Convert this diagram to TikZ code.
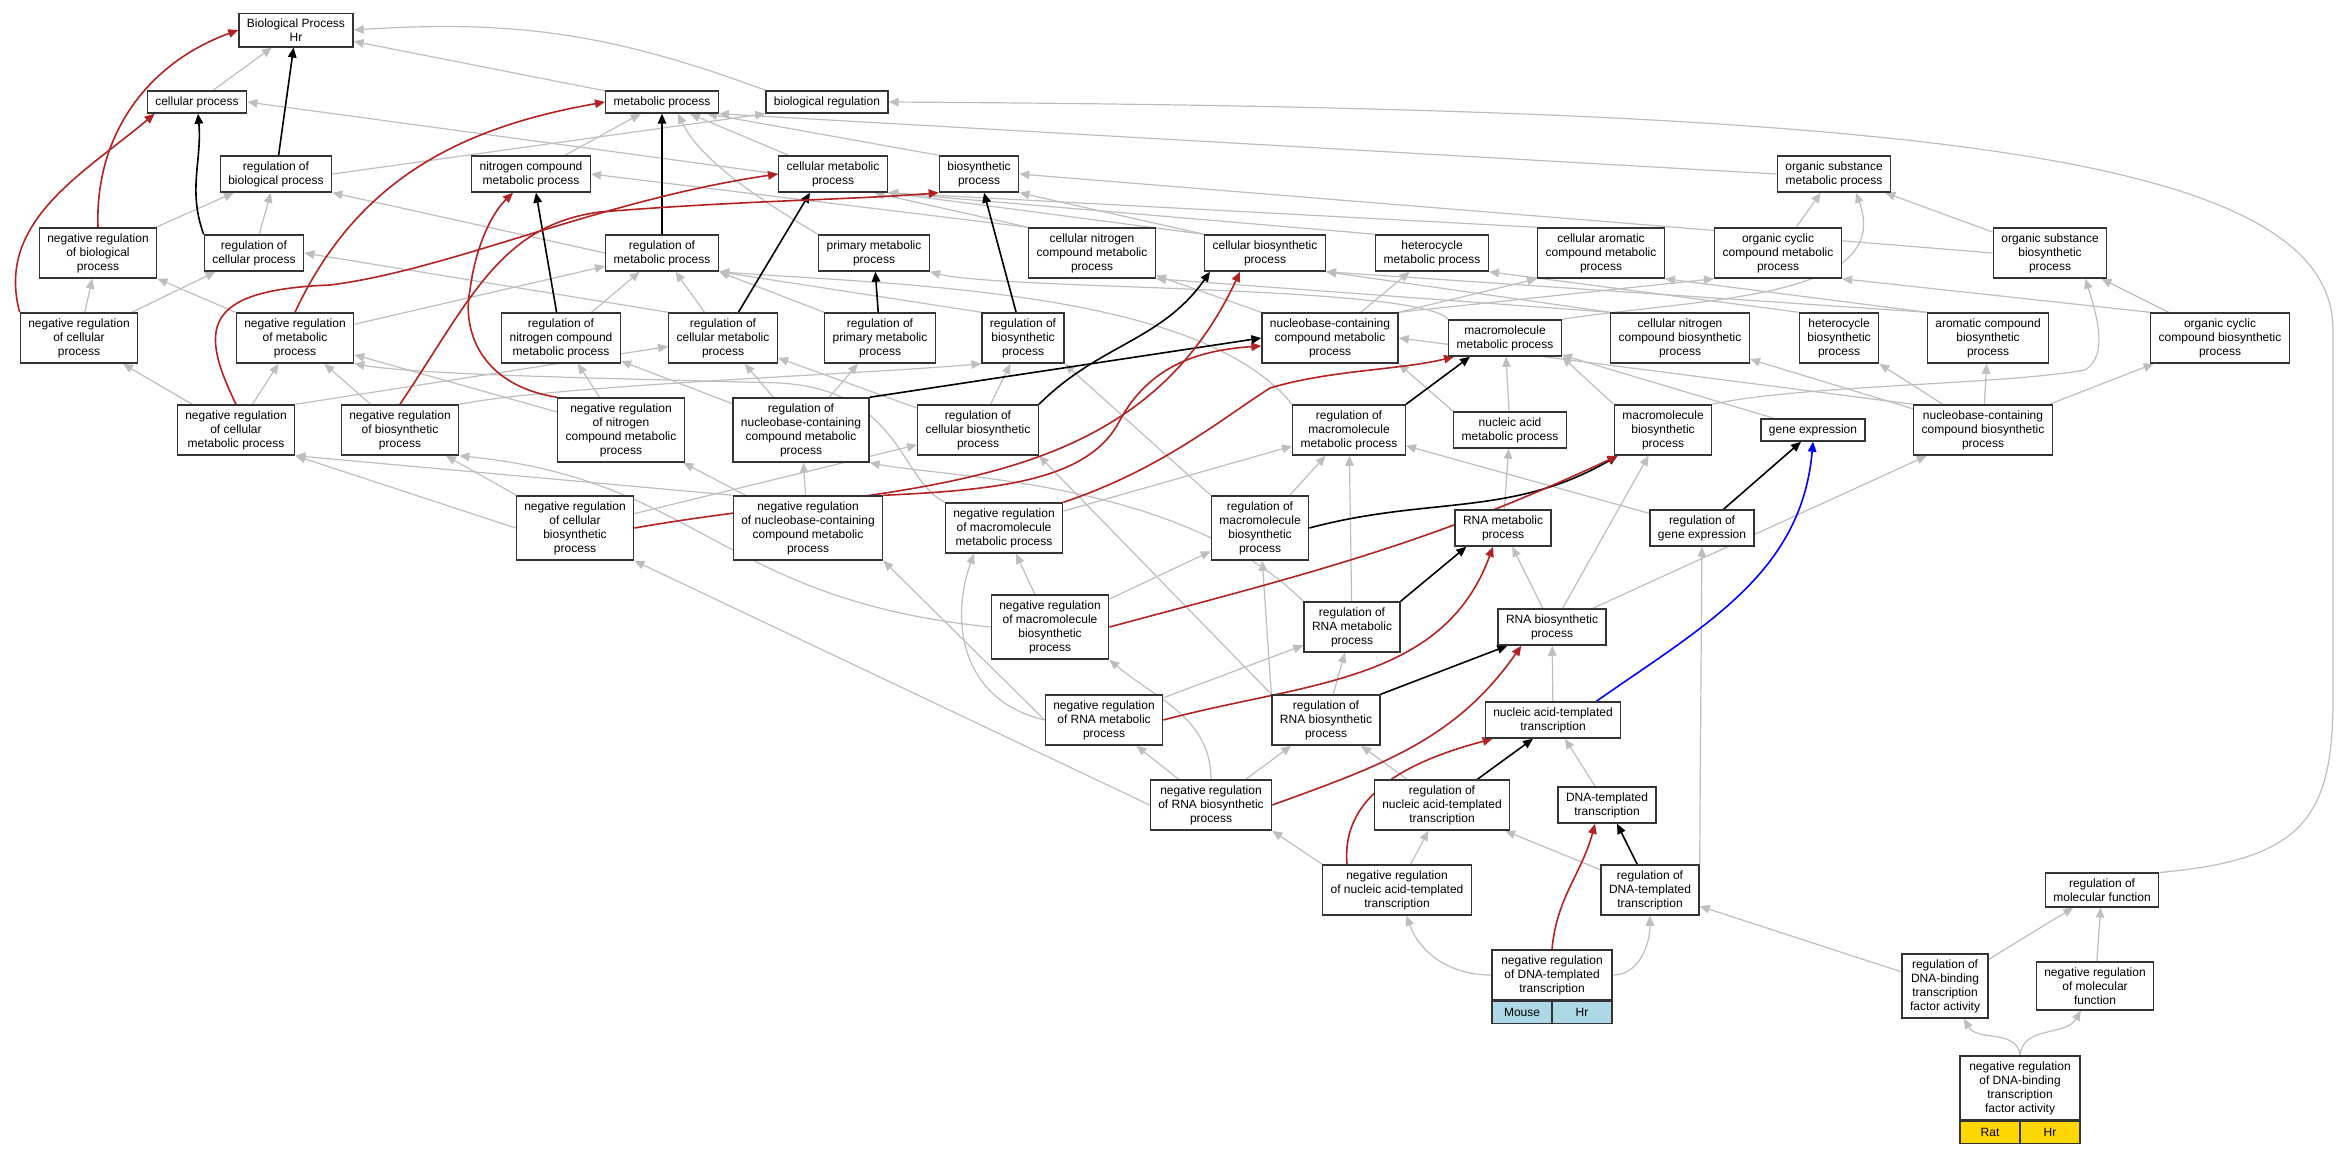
\documentclass[tikz,border=0pt]{standalone}
\usepackage{fontspec}
\setmainfont{Liberation Sans}
\usetikzlibrary{positioning}
\usetikzlibrary{arrows.meta}
\usetikzlibrary{backgrounds}
\definecolor{isagray}{HTML}{BEBEBE}
\definecolor{negred}{HTML}{B22222}
\definecolor{mouseblue}{HTML}{ADD8E6}
\definecolor{ratgold}{HTML}{FFD700}
\tikzset{
  term/.style={draw=black!80, line width=1.3pt, fill=white, align=center, font=\fontsize{12}{14}\selectfont, inner xsep=8pt, inner ysep=5.5pt},
  cell/.style={draw=black!80, line width=1.3pt, font=\fontsize{12}{14}\selectfont, minimum height=22pt, minimum width=60pt, inner sep=0pt},
  isa/.style={isagray, line width=1.2pt, -{Triangle[length=10pt,width=8.5pt]}},
  regs/.style={black, line width=1.6pt, -{Triangle[length=10pt,width=8.5pt]}},
  negreg/.style={negred, line width=1.6pt, -{Triangle[length=10pt,width=8.5pt]}},
  partof/.style={blue, line width=1.6pt, -{Triangle[length=10pt,width=8.5pt]}}
}
\begin{document}
\begin{tikzpicture}[x=1pt,y=1pt]
\useasboundingbox (0,0) rectangle (2341,-1152);
\node[term] (BP) at (296,-30) {Biological Process\\Hr};
\node[term] (cp) at (197,-102) {cellular process};
\node[term] (mp) at (662,-102) {metabolic process};
\node[term] (br) at (827,-102) {biological regulation};
\node[term] (rbp) at (276,-174) {regulation of\\biological process};
\node[term] (ncmp) at (531,-174) {nitrogen compound\\metabolic process};
\node[term] (cmp) at (833,-174) {cellular metabolic\\process};
\node[term] (bsp) at (979,-174) {biosynthetic\\process};
\node[term] (osmp) at (1834,-174) {organic substance\\metabolic process};
\node[term] (nrbp) at (98,-253) {negative regulation\\of biological\\process};
\node[term] (rcp) at (254,-253) {regulation of\\cellular process};
\node[term] (rmp) at (662,-253) {regulation of\\metabolic process};
\node[term] (pmp) at (874,-253) {primary metabolic\\process};
\node[term] (cncmp) at (1092,-253) {cellular nitrogen\\compound metabolic\\process};
\node[term] (cbp) at (1265,-253) {cellular biosynthetic\\process};
\node[term] (hmp) at (1432,-253) {heterocycle\\metabolic process};
\node[term] (camp) at (1601,-253) {cellular aromatic\\compound metabolic\\process};
\node[term] (occmp) at (1778,-253) {organic cyclic\\compound metabolic\\process};
\node[term] (osbp) at (2050,-253) {organic substance\\biosynthetic\\process};
\node[term] (nrcp) at (79,-338) {negative regulation\\of cellular\\process};
\node[term] (nrmp) at (295,-338) {negative regulation\\of metabolic\\process};
\node[term] (rncmp) at (561,-338) {regulation of\\nitrogen compound\\metabolic process};
\node[term] (rcmp) at (723,-338) {regulation of\\cellular metabolic\\process};
\node[term] (rpmp) at (880,-338) {regulation of\\primary metabolic\\process};
\node[term] (rbsp) at (1023,-338) {regulation of\\biosynthetic\\process};
\node[term] (nbcmp) at (1330,-338) {nucleobase-containing\\compound metabolic\\process};
\node[term] (mmp) at (1505,-338) {macromolecule\\metabolic process};
\node[term] (cncbp) at (1680,-338) {cellular nitrogen\\compound biosynthetic\\process};
\node[term] (hbp) at (1839,-338) {heterocycle\\biosynthetic\\process};
\node[term] (acbp) at (1988,-338) {aromatic compound\\biosynthetic\\process};
\node[term] (occbp) at (2220,-338) {organic cyclic\\compound biosynthetic\\process};
\node[term] (nrcmp) at (236,-430) {negative regulation\\of cellular\\metabolic process};
\node[term] (nrbsp) at (400,-430) {negative regulation\\of biosynthetic\\process};
\node[term] (nrncmp) at (621,-430) {negative regulation\\of nitrogen\\compound metabolic\\process};
\node[term] (rnbcmp) at (801,-430) {regulation of\\nucleobase-containing\\compound metabolic\\process};
\node[term] (rcbp) at (978,-430) {regulation of\\cellular biosynthetic\\process};
\node[term] (rmmp) at (1349,-430) {regulation of\\macromolecule\\metabolic process};
\node[term] (namp) at (1510,-430) {nucleic acid\\metabolic process};
\node[term] (mbp) at (1663,-430) {macromolecule\\biosynthetic\\process};
\node[term] (ge) at (1813,-430) {gene expression};
\node[term] (nbcbp) at (1983,-430) {nucleobase-containing\\compound biosynthetic\\process};
\node[term] (nrcbp) at (575,-528) {negative regulation\\of cellular\\biosynthetic\\process};
\node[term] (nrnbcmp) at (808,-528) {negative regulation\\of nucleobase-containing\\compound metabolic\\process};
\node[term] (nrmmp) at (1004,-528) {negative regulation\\of macromolecule\\metabolic process};
\node[term] (rmbp) at (1260,-528) {regulation of\\macromolecule\\biosynthetic\\process};
\node[term] (rnamp) at (1503,-528) {RNA metabolic\\process};
\node[term] (rge) at (1702,-528) {regulation of\\gene expression};
\node[term] (nrmbp) at (1050,-627) {negative regulation\\of macromolecule\\biosynthetic\\process};
\node[term] (rrnamp) at (1352,-627) {regulation of\\RNA metabolic\\process};
\node[term] (rnabp) at (1552,-627) {RNA biosynthetic\\process};
\node[term] (nrrnamp) at (1104,-720) {negative regulation\\of RNA metabolic\\process};
\node[term] (rrnabp) at (1326,-720) {regulation of\\RNA biosynthetic\\process};
\node[term] (natt) at (1553,-720) {nucleic acid-templated\\transcription};
\node[term] (nrrnabp) at (1211,-805) {negative regulation\\of RNA biosynthetic\\process};
\node[term] (rnatt) at (1442,-805) {regulation of\\nucleic acid-templated\\transcription};
\node[term] (dtt) at (1607,-805) {DNA-templated\\transcription};
\node[term] (nrnatt) at (1397,-890) {negative regulation\\of nucleic acid-templated\\transcription};
\node[term] (rdtt) at (1650,-890) {regulation of\\DNA-templated\\transcription};
\node[term] (rmf) at (2102,-890) {regulation of\\molecular function};
\node[term, minimum width=120pt] (nrdtt) at (1552,-975) {negative regulation\\of DNA-templated\\transcription};
\node[cell, fill=mouseblue, below right=0pt and 0pt of nrdtt.south west] (nrdttM) {Mouse};
\node[cell, fill=mouseblue, below left=0pt and 0pt of nrdtt.south east] (nrdttH) {Hr};
\node[term] (rdbtf) at (1945,-986) {regulation of\\DNA-binding\\transcription\\factor activity};
\node[term] (nrmf) at (2095,-986) {negative regulation\\of molecular\\function};
\node[term, minimum width=120pt] (nrdbtf) at (2020,-1088) {negative regulation\\of DNA-binding\\transcription\\factor activity};
\node[cell, fill=ratgold, below right=0pt and 0pt of nrdbtf.south west] (nrdbtfR) {Rat};
\node[cell, fill=ratgold, below left=0pt and 0pt of nrdbtf.south east] (nrdbtfH) {Hr};
\begin{scope}[on background layer]
\fill[white] (0,0) rectangle (2341,-1152);
\path[isa] (cp) edge (BP);
\path[isa] (mp) edge (BP);
\path[isa] (br.north west) edge[bend right=12] (BP.east);
\path[isa] (rbp.east) edge (br.south west);
\path[isa] (cmp.west) edge (cp.east);
\path[isa] (cmp) edge (mp);
\path[isa] (ncmp) edge (mp);
\path[isa] (bsp.north west) edge ([xshift=-12pt]mp.south east);
\path[isa] (osmp.west) edge (mp.south east);
\draw[isa] (pmp.north west) .. controls (760,-200) and (700,-160) .. ([xshift=16pt]mp.south);
\path[isa] (rcp) edge (rbp);
\path[isa] (nrbp) edge (rbp);
\path[isa] (rmp.west) edge (rbp.south east);
\path[isa] (nrcp) edge (nrbp);
\path[isa] (nrcp) edge (rcp);
\path[isa] (nrmp) edge (nrbp);
\path[isa] (nrmp) edge (rmp);
\path[isa] (cncmp.north west) edge ([xshift=-14pt]cmp.south east);
\path[isa] (cncmp.north west) edge (ncmp.east);
\path[isa] (cbp.north west) edge (cmp.south east);
\path[isa] (cbp.north west) edge (bsp.south east);
\path[isa] (hmp.north west) edge (cmp.south east);
\path[isa] (camp.north west) edge (cmp.south east);
\path[isa] (osbp.west) edge (bsp.east);
\path[isa] (osbp) edge (osmp);
\path[isa] (occmp) edge (osmp);
\draw[isa] (mmp.north east) .. controls (1700,-298) and (1895,-300) .. ([xshift=22pt]osmp.south);
\draw[isa] (mmp.north west) .. controls (1420,-285) and (1000,-290) .. (pmp.south east);
\path[isa] (rcmp.north west) edge (rcp.east);
\path[isa] (rcmp) edge (rmp);
\path[isa] (rncmp) edge (rmp);
\path[isa] (rpmp.north west) edge (rmp.south east);
\path[isa] (rbsp.north west) edge (rmp.south east);
\path[isa] (nrcmp) edge (nrcp);
\path[isa] (nrcmp) edge (nrmp);
\path[isa] (nrcmp.north east) edge (rcmp);
\path[isa] (nrbsp) edge (nrmp);
\draw[isa] (nrbsp.north east) .. controls (560,-385) and (850,-375) .. (rbsp.south west);
\path[isa] (nrncmp) edge (nrmp);
\path[isa] (nrncmp) edge (rncmp);
\path[isa] (nbcmp.north west) edge (cncmp);
\path[isa] (nbcmp) edge (hmp);
\path[isa] (nbcmp.north east) edge (camp.south west);
\path[isa] (nbcmp.north east) edge (occmp.south west);
\path[isa] (cncbp.north west) edge (cncmp.south east);
\path[isa] (cncbp.north west) edge (cbp.south east);
\path[isa] (hbp.north west) edge (hmp.south east);
\path[isa] (acbp.north west) edge (camp.south east);
\path[isa] (acbp.north west) edge (cbp.south east);
\path[isa] (occbp.north west) edge (occmp.south east);
\path[isa] (occbp) edge (osbp);
\path[isa] (rnbcmp) edge (rcmp);
\path[isa] (rnbcmp) edge (rncmp);
\path[isa] (rnbcmp) edge (rpmp);
\path[isa] (rcbp) edge (rcmp);
\path[isa] (rcbp) edge (rbsp);
\draw[isa] (rmmp.north west) .. controls (1200,-290) and (900,-285) .. (rmp.south east);
\path[isa] (namp.north west) edge (nbcmp.south east);
\path[isa] (namp) edge (mmp);
\path[isa] (mbp.north west) edge (mmp.south east);
\draw[isa] (mbp.north east) .. controls (1800,-385) and (2000,-385) .. (2085,-370) .. controls (2110,-355) and (2095,-310) .. ([xshift=-22pt]osbp.south east);
\path[isa] (ge) edge (mmp);
\path[isa] (nbcbp.north west) edge (nbcmp.east);
\path[isa] (nbcbp) edge (cncbp);
\path[isa] (nbcbp) edge (hbp);
\path[isa] (nbcbp) edge (acbp);
\path[isa] (nbcbp) edge (occbp);
\path[isa] (nrcbp.west) edge (nrcmp.south east);
\path[isa] (nrcbp) edge (nrbsp);
\path[isa] (nrcbp) edge (rcbp);
\path[isa] (nrnbcmp.north west) edge (nrcmp.south east);
\path[isa] (nrnbcmp) edge (nrncmp);
\path[isa] (nrnbcmp) edge (rnbcmp);
\draw[isa] (nrmmp.north west) .. controls (900,-480) and (900,-390) .. (780,-383) .. controls (600,-378) and (420,-375) .. (nrmp.south east);
\path[isa] (nrmmp) edge (rmmp);
\path[isa] (rmbp) edge (rmmp);
\path[isa] (rmbp.north west) edge (rbsp.south east);
\path[isa] (rnamp) edge (namp);
\path[isa] (rge) edge (rmmp);
\path[isa] (nrmbp) edge (nrmmp);
\draw[isa] (nrmbp.west) .. controls (720,-600) and (700,-480) .. (nrbsp.south east);
\path[isa] (nrmbp) edge (rmbp);
\draw[isa] (rrnamp.north west) .. controls (1180,-480) and (950,-478) .. (rnbcmp.south east);
\path[isa] (rrnamp) edge (rmmp);
\path[isa] (rnabp) edge (rnamp);
\path[isa] (rnabp) edge (mbp);
\path[isa] (rnabp) edge (nbcbp);
\path[isa] (nrrnamp.west) edge (nrnbcmp.south east);
\draw[isa] (nrrnamp.west) .. controls (960,-700) and (950,-620) .. ([xshift=-30pt]nrmmp.south);
\path[isa] (nrrnamp) edge (rrnamp);
\path[isa] (rrnabp) edge (rrnamp);
\path[isa] (rrnabp.north west) edge (rmbp);
\path[isa] (rrnabp.north west) edge (rcbp.south east);
\path[isa] (natt) edge (rnabp);
\path[isa] (nrrnabp) edge (nrrnamp);
\path[isa] (nrrnabp.north) edge[out=90,in=-40] (nrmbp.south east);
\path[isa] (nrrnabp.west) edge (nrcbp.south east);
\path[isa] (nrrnabp) edge (rrnabp);
\path[isa] (rnatt) edge (rrnabp);
\path[isa] (dtt) edge (natt);
\path[isa] (nrnatt.north west) edge (nrrnabp.south east);
\path[isa] (nrnatt) edge (rnatt);
\path[isa] (rdtt) edge (rnatt);
\path[isa] (rdtt.north east) edge (rge);
\path[isa] (nrdtt.west) edge[out=180,in=-70] (nrnatt);
\path[isa] (nrdtt.east) edge[out=0,in=-90] (rdtt);
\path[isa] (rdbtf) edge (rdtt);
\path[isa] (rdbtf) edge (rmf);
\path[isa] (nrmf) edge (rmf);
\path[isa] (nrdbtf.north) edge[out=95,in=-60] (rdbtf);
\path[isa] (nrdbtf.north) edge[out=85,in=-120] (nrmf);
\draw[isa] (rmf.north east) .. controls (2300,-860) and (2333,-820) .. (2333,-700) -- (2333,-330) .. controls (2333,-150) and (1900,-108) .. (br.east);
\path[regs] (rbp) edge (BP);
\path[regs] (rcp.north west) edge[out=110,in=-85] (cp);
\path[regs] (rmp) edge (mp);
\path[regs] (rncmp) edge ([xshift=5pt]ncmp.south);
\path[regs] (rcmp) edge ([xshift=-23pt]cmp.south);
\path[regs] (rbsp) edge (bsp);
\path[regs] (rpmp) edge (pmp);
\path[regs] (rnbcmp.north east) edge (nbcmp.west);
\path[regs] (rcbp.north east) edge[out=45,in=235] ([xshift=6pt]cbp.south west);
\path[regs] (rmmp.north east) edge ([xshift=22pt]mmp.south west);
\path[regs] (rmbp.east) edge[out=15,in=210] ([xshift=4pt]mbp.south west);
\path[regs] (rge) edge ([xshift=-12pt]ge.south);
\path[regs] (rrnamp.north east) edge ([xshift=12pt]rnamp.south west);
\path[regs] (rrnabp.north east) edge ([xshift=10pt]rnabp.south west);
\path[regs] (rnatt) edge ([xshift=-20pt]natt.south);
\path[regs] (rdtt) edge ([xshift=10pt]dtt.south);
\path[negreg] (nrbp.north) edge[out=92,in=200] (BP.west);
\path[negreg] (nrcp.north west) edge[out=105,in=220] ([xshift=8pt]cp.south west);
\path[negreg] (nrmp.north) edge[out=65,in=190] (mp.west);
\draw[negreg] (nrcmp.north) .. controls (200,-330) and (200,-290) .. (330,-285) .. controls (450,-270) and (600,-200) .. (cmp.west);
\draw[negreg] (nrbsp.north) .. controls (470,-300) and (500,-225) .. (600,-212) .. controls (750,-200) and (850,-200) .. (bsp.south west);
\draw[negreg] (nrncmp.north west) .. controls (480,-385) and (462,-330) .. (470,-290) .. controls (475,-250) and (490,-215) .. ([xshift=-18pt]ncmp.south);
\path[negreg] (nrcbp.east) edge[out=10,in=245] ([xshift=-25pt]cbp.south);
\draw[negreg] (nrnbcmp.north east) .. controls (1000,-490) and (1090,-480) .. (1120,-420) .. controls (1150,-365) and (1200,-350) .. ([yshift=-8pt]nbcmp.west);
\draw[negreg] (nrmmp.north east) .. controls (1160,-470) and (1220,-420) .. (1270,-388) .. controls (1330,-370) and (1400,-370) .. ([xshift=6pt]mmp.south west);
\path[negreg] (nrmbp.east) edge[out=15,in=205] ([xshift=4pt]mbp.south west);
\path[negreg] (nrrnamp.east) edge[out=15,in=250] ([xshift=-10pt]rnamp.south);
\path[negreg] (nrrnabp.east) edge[out=20,in=235] ([xshift=24pt]rnabp.south west);
\path[negreg] ([xshift=-50pt]nrnatt.north) edge[out=95,in=195] ([xshift=8pt]natt.south west);
\path[negreg] (nrdtt.north) edge[out=85,in=-105] ([xshift=-12pt]dtt.south);
\path[partof] ([xshift=-25pt]natt.north east) edge[out=35,in=-95] (ge.south);
\end{scope}
\end{tikzpicture}
\end{document}
